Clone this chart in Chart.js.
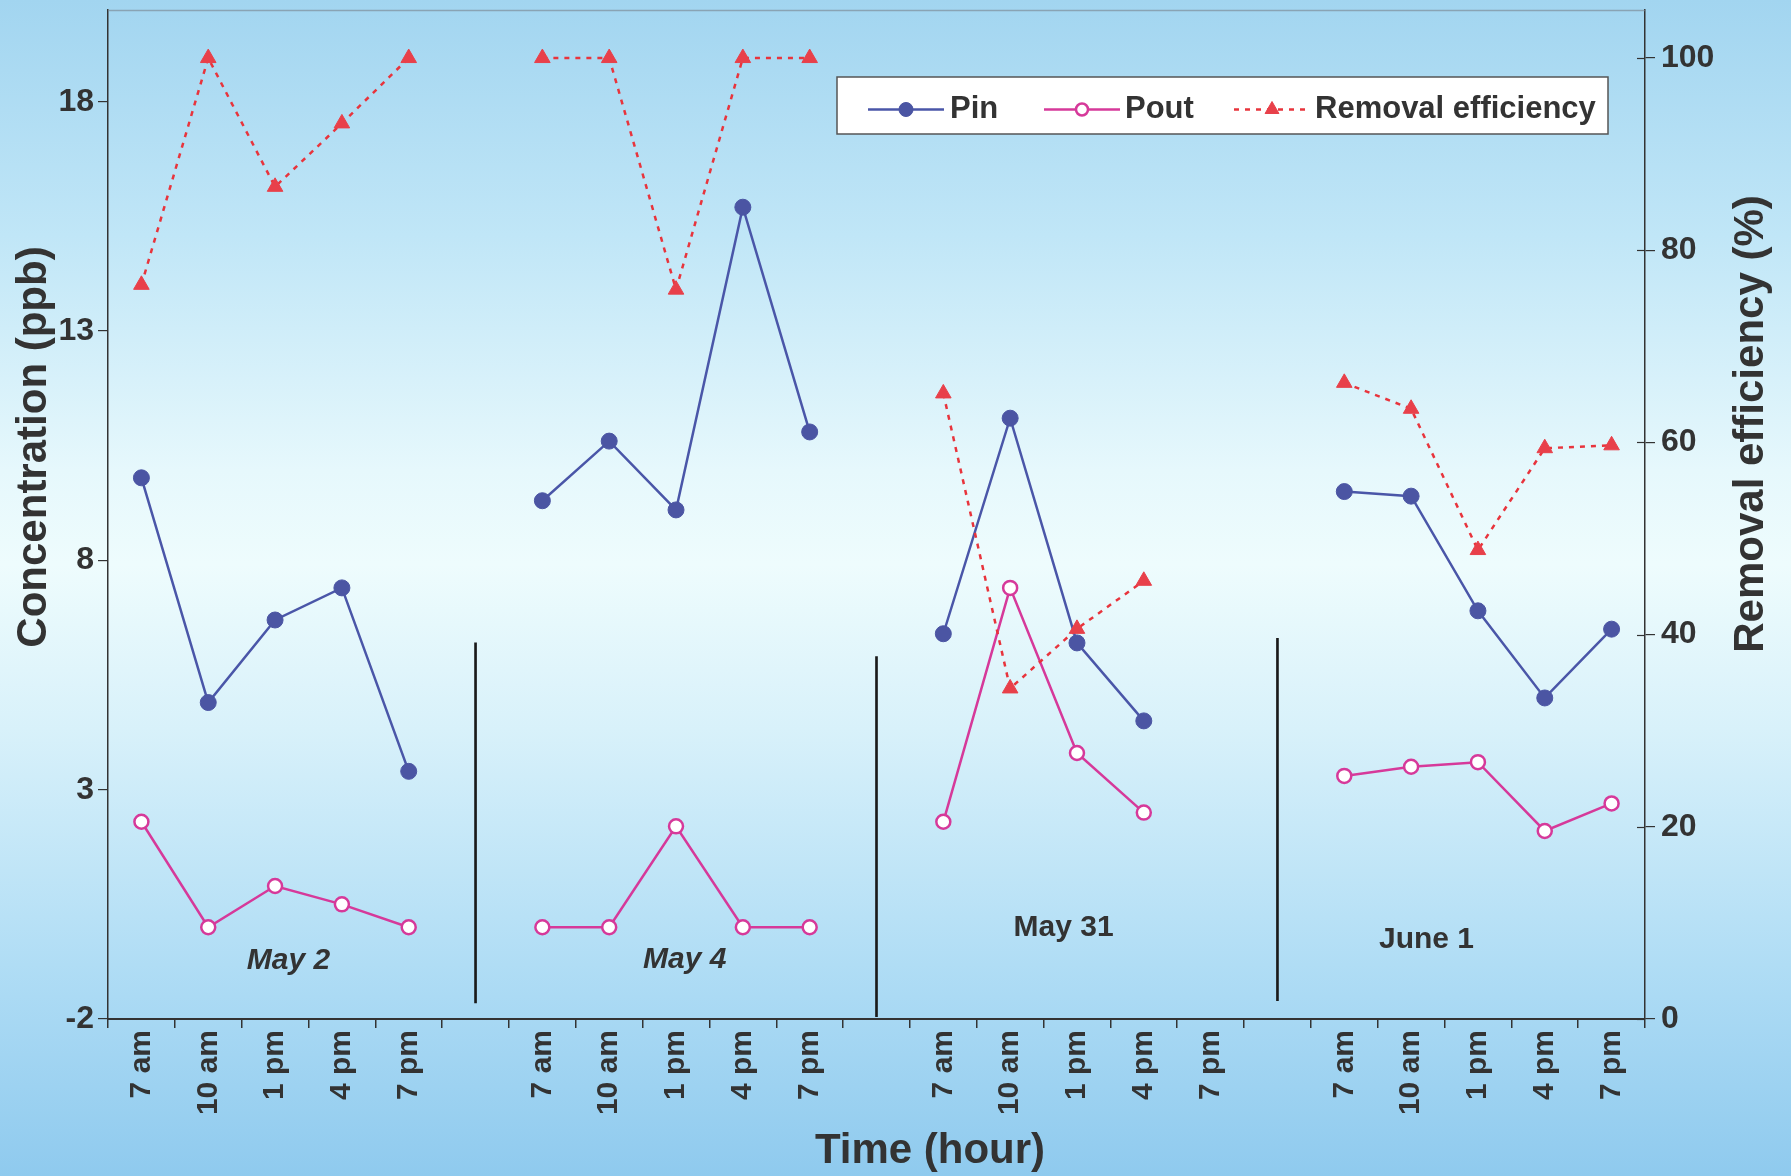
<!DOCTYPE html>
<html><head><meta charset="utf-8">
<script src="https://cdn.jsdelivr.net/npm/chart.js@4/dist/chart.umd.min.js"></script>
<style>
html,body{margin:0;padding:0;width:1791px;height:1176px;overflow:hidden;
background:linear-gradient(to bottom,#a2d5f0 0%,#c0e6f7 20%,#e6f8fc 40%,#eefcfd 48%,#d8f1fa 62%,#b0ddf5 82%,#8fcaee 100%);}
canvas{position:absolute;left:0;top:0;}
</style></head><body>
<canvas id="c" width="1791" height="1176"></canvas>
<script>
// ---- data ----
const days = ['May 2','May 4','May 31','June 1'];
const categories = ['7 am','10 am','1 pm','4 pm','7 pm','',
                    '7 am','10 am','1 pm','4 pm','7 pm','',
                    '7 am','10 am','1 pm','4 pm','7 pm','',
                    '7 am','10 am','1 pm','4 pm','7 pm'];
const pinValues = [9.8, 4.9, 6.7, 7.4, 3.4, null,
                   9.3, 10.6, 9.1, 15.7, 10.8, null,
                   6.4, 11.1, 6.2, 4.5, null, null,
                   9.5, 9.4, 6.9, 5.0, 6.5];
const poutValues = [2.3, 0.0, 0.9, 0.5, 0.0, null,
                    0.0, 0.0, 2.2, 0.0, 0.0, null,
                    2.3, 7.4, 3.8, 2.5, null, null,
                    3.3, 3.5, 3.6, 2.1, 2.7];
const removalValues = [76.4, 100, 86.6, 93.2, 100, null,
                       100, 100, 75.9, 100, 100, null,
                       65.1, 34.4, 40.6, 45.6, null, null,
                       66.2, 63.5, 48.8, 59.4, 59.7];
const separatorTop = [6.2, 5.9, 6.3];
const separatorBottom = [-1.65, -1.95, -1.6];
const leftTicks = [-2, 3, 8, 13, 18];
const rightTicks = [0, 20, 40, 60, 80, 100];
const seriesNames = ['Pin', 'Pout', 'Removal efficiency'];
const axisTitles = {x: 'Time (hour)', y: 'Concentration (ppb)', y1: 'Removal efficiency (%)'};
// day label anchors: [category position, concentration value]
const dayLabelAt = [[2.2, -0.73], [8.13, -0.7], [13.8, 0.0], [19.23, -0.28]];
const dayLabelItalic = [true, true, false, false];

// ---- build ----
const gapIdx = categories.map((c,i)=>c===''?i:-1).filter(i=>i>=0);
const sepData = categories.map(()=>null);
gapIdx.forEach((gi,k)=>{ sepData[gi] = [separatorBottom[k], separatorTop[k]]; });

const FONT = "'Liberation Sans', Arial, Helvetica, sans-serif";
const TXT = '#333333';
function zeroPad(s){ s.paddingTop = 0; s.paddingBottom = 0; s.paddingLeft = 0; s.paddingRight = 0; }

const decor = {
  id: 'decor',
  beforeDatasetsDraw(chart){
    const ctx = chart.ctx, a = chart.chartArea;
    ctx.save();
    ctx.strokeStyle = 'rgba(120,130,140,0.6)'; ctx.lineWidth = 1.5;
    ctx.beginPath(); ctx.moveTo(a.left, a.top+0.5); ctx.lineTo(a.right, a.top+0.5); ctx.stroke();
    const y1 = chart.scales.y1;
    ctx.strokeStyle = '#333'; ctx.lineWidth = 1.2;
    y1.ticks.forEach(t=>{
      const py = Math.round(y1.getPixelForValue(t.value)) + 0.5;
      ctx.beginPath(); ctx.moveTo(a.right - 8, py); ctx.lineTo(a.right, py); ctx.stroke();
    });
    ctx.restore();
  },
  afterDraw(chart){
    const ctx = chart.ctx;
    ctx.save();
    ctx.fillStyle = TXT;
    ctx.font = "bold 42px " + FONT;
    ctx.textAlign = 'center'; ctx.textBaseline = 'middle';
    ctx.fillText(axisTitles.x, 930, 1151);
    ctx.save(); ctx.translate(34, 447); ctx.rotate(-Math.PI/2); ctx.fillText(axisTitles.y, 0, 0); ctx.restore();
    ctx.save(); ctx.translate(1751, 424); ctx.rotate(-Math.PI/2); ctx.fillText(axisTitles.y1, 0, 0); ctx.restore();
    const xs = chart.scales.x, ys = chart.scales.y;
    days.forEach((d,i)=>{
      ctx.font = (dayLabelItalic[i] ? 'italic ' : '') + 'bold 30px ' + FONT;
      ctx.fillText(d, xs.getPixelForValue(dayLabelAt[i][0]), ys.getPixelForValue(dayLabelAt[i][1]));
    });
    const bx = 837, by = 77, bw = 771, bh = 57;
    ctx.fillStyle = '#ffffff'; ctx.fillRect(bx, by, bw, bh);
    ctx.strokeStyle = '#555'; ctx.lineWidth = 1.5; ctx.strokeRect(bx, by, bw, bh);
    const items = [[868, 950, 2], [1044, 1125, 1], [1234, 1315, 0]];
    const cy = by + bh/2 + 4;
    items.forEach(it=>{
      const ds = chart.data.datasets[it[2]];
      ctx.save();
      ctx.strokeStyle = ds.borderColor; ctx.lineWidth = ds.borderWidth;
      ctx.setLineDash(ds.borderDash || []);
      ctx.beginPath(); ctx.moveTo(it[0], cy); ctx.lineTo(it[0]+76, cy); ctx.stroke();
      ctx.setLineDash([]);
      ctx.fillStyle = ds.pointBackgroundColor; ctx.strokeStyle = ds.pointBorderColor; ctx.lineWidth = ds.pointBorderWidth;
      Chart.helpers.drawPoint(ctx, {pointStyle: ds.pointStyle, radius: ds.pointRadius - 1, borderWidth: ds.pointBorderWidth, rotation: 0}, it[0]+38, cy);
      ctx.restore();
      ctx.fillStyle = TXT;
      ctx.font = 'bold 31px ' + FONT;
      ctx.textAlign = 'left'; ctx.textBaseline = 'middle';
      ctx.fillText(ds.label, it[1], cy);
    });
    ctx.restore();
  }
};

new Chart(document.getElementById('c'), {
  type: 'line',
  data: {
    labels: categories,
    datasets: [
      {
        label: seriesNames[2], data: removalValues, yAxisID: 'y1', order: 0,
        borderColor: '#e8343c', borderWidth: 2.5, borderDash: [5, 6],
        pointStyle: 'triangle', pointRadius: 9, pointBackgroundColor: '#e8404a', pointBorderColor: '#e8404a',
        pointBorderWidth: 1, spanGaps: false, tension: 0
      },
      {
        label: seriesNames[1], data: poutValues, yAxisID: 'y', order: 1,
        borderColor: '#d6399a', borderWidth: 2.5,
        pointStyle: 'circle', pointRadius: 7, pointBackgroundColor: '#ffffff', pointBorderColor: '#d6399a',
        pointBorderWidth: 2.5, spanGaps: false, tension: 0
      },
      {
        label: seriesNames[0], data: pinValues, yAxisID: 'y', order: 2,
        borderColor: '#4a56a8', borderWidth: 2.5,
        pointStyle: 'circle', pointRadius: 8, pointBackgroundColor: '#4b55a3', pointBorderColor: '#4b55a3',
        pointBorderWidth: 1, spanGaps: false, tension: 0
      },
      {
        type: 'bar', label: 'sep', data: sepData, yAxisID: 'y', order: 3,
        backgroundColor: '#1a1a1a', barThickness: 2, borderWidth: 0
      }
    ]
  },
  options: {
    responsive: false, animation: false, devicePixelRatio: 1,
    layout: {padding: {top: 9, left: 0, right: 0, bottom: 0}},
    plugins: {legend: {display: false}, tooltip: {enabled: false}},
    scales: {
      x: {
        type: 'category', offset: true,
        grid: {offset: true, drawOnChartArea: false, drawTicks: true, tickLength: 9, color: '#333', lineWidth: 1.5},
        border: {display: true, color: '#333', width: 2},
        ticks: {autoSkip: false, minRotation: 90, maxRotation: 90, padding: 2, color: TXT, font: {family: FONT, weight: 'bold', size: 30}},
        afterFit(s){ s.height = 157; zeroPad(s); }
      },
      y: {
        position: 'left', min: -2, max: 20,
        afterBuildTicks(s){ s.ticks = leftTicks.map(v=>({value: v})); },
        grid: {drawOnChartArea: false, tickLength: 10, color: '#333', lineWidth: 1.2},
        border: {display: true, color: '#333', width: 1.5},
        ticks: {padding: 4, color: TXT, font: {family: FONT, weight: 'bold', size: 32}},
        afterFit(s){ s.width = 108; zeroPad(s); }
      },
      y1: {
        position: 'right', min: 0, max: 105,
        afterBuildTicks(s){ s.ticks = rightTicks.map(v=>({value: v})); },
        grid: {drawOnChartArea: false, tickLength: 10, color: '#333', lineWidth: 1.2},
        border: {display: true, color: '#333', width: 1.5},
        ticks: {padding: 6, color: TXT, font: {family: FONT, weight: 'bold', size: 32}},
        afterFit(s){ s.width = 146; zeroPad(s); }
      }
    }
  },
  plugins: [decor]
});
</script>
</body></html>
